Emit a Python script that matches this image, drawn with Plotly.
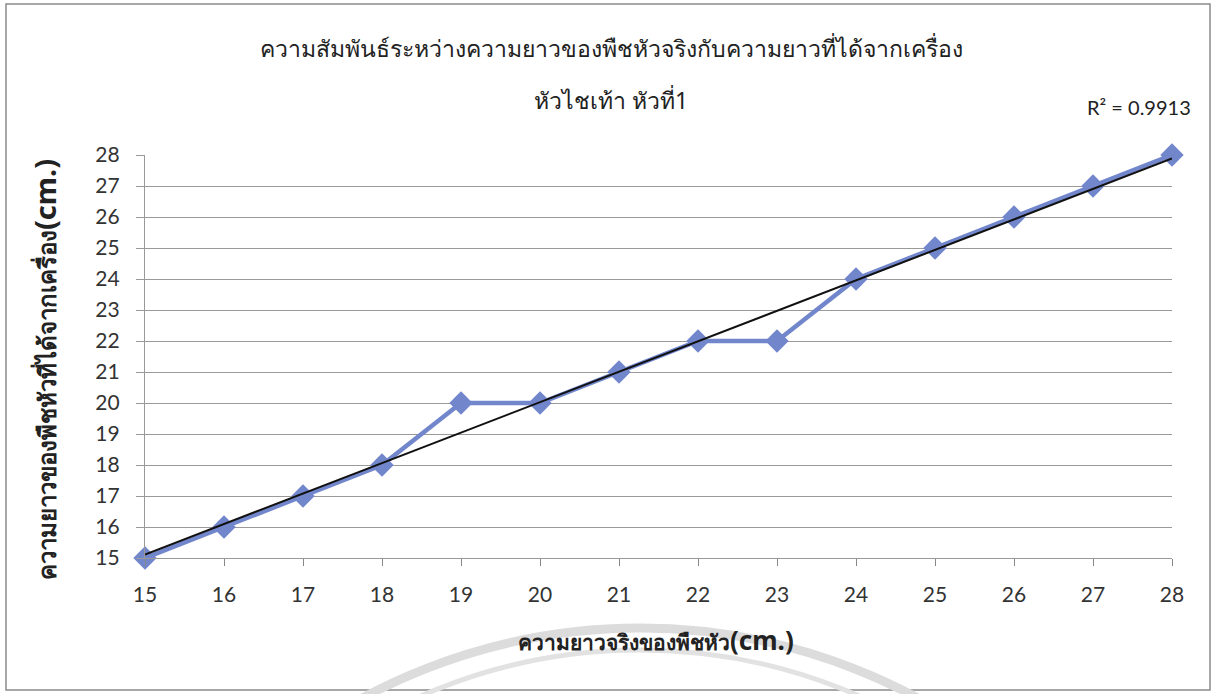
import numpy as np
import plotly.graph_objects as go

# Actual tuber length (cm) vs. length measured by the machine (cm)
actual_len = [15, 16, 17, 18, 19, 20, 21, 22, 23, 24, 25, 26, 27, 28]
machine_len = [15, 16, 17, 18, 20, 20, 21, 22, 22, 24, 25, 26, 27, 28]
tick_vals = list(range(15, 29))

title_line1 = "ความสัมพันธ์ระหว่างความยาวของพืชหัวจริงกับความยาวที่ได้จากเครื่อง"
title_line2 = "หัวไชเท้า หัวที่1"
x_title = "ความยาวจริงของพืชหัว"
y_title = "ความยาวของพืชหัวที่ได้จากเครื่อง"
unit = "(cm.)"

# Linear trendline and R² from the data
x = np.array(actual_len, dtype=float)
y = np.array(machine_len, dtype=float)
slope, intercept = np.polyfit(x, y, 1)
fit = slope * x + intercept
r2 = 1 - np.sum((y - fit) ** 2) / np.sum((y - y.mean()) ** 2)

W, H = 1223, 694
L, R, T, B = 145, 51, 155, 136
PW, PH = W - L - R, H - T - B


def px(v):
    return (v - L) / PW


def py(v):
    return (H - B - v) / PH


fig = go.Figure()
fig.add_trace(go.Scatter(
    x=actual_len, y=machine_len, mode="lines+markers",
    line=dict(color="#7286cc", width=4.5),
    marker=dict(symbol="diamond", size=18, color="#7286cc"),
    showlegend=False, cliponaxis=False,
))
fig.add_trace(go.Scatter(
    x=actual_len, y=fit.tolist(), mode="lines",
    line=dict(color="#111111", width=2),
    showlegend=False, cliponaxis=False,
))

tick_font = dict(family="Lato, 'Open Sans', sans-serif", size=21, color="#333333")
fig.update_xaxes(
    range=[15, 28], tickvals=tick_vals, ticks="outside", ticklen=7,
    tickcolor="#888888", tickwidth=1.2, showgrid=False, zeroline=False,
    showline=True, linecolor="#999999", linewidth=1.2,
    tickfont=tick_font, ticklabelstandoff=11,
)
fig.update_yaxes(
    range=[15, 28], tickvals=tick_vals, ticks="outside", ticklen=8,
    tickcolor="#999999", tickwidth=1.2, showgrid=True, gridcolor="#9a9a9a",
    gridwidth=1.2, zeroline=False, showline=True, linecolor="#999999",
    linewidth=1.2, tickfont=tick_font, ticklabelstandoff=12,
)

thai_font = "'Noto Sans', 'DejaVu Sans', sans-serif"


def label(text, cx, cy, size, angle=0, family=thai_font):
    fig.add_annotation(xref="paper", yref="paper", x=px(cx), y=py(cy),
                       xanchor="center", yanchor="middle", text=text,
                       showarrow=False, textangle=angle,
                       font=dict(family=family, size=size, color="#222222"))


def axis_label(thai, size_thai, size_unit):
    return (f"<b>{thai}<span style='font-size:{size_unit}px'>{unit}</span></b>")


label(title_line1, 611, 48, 23)
label(title_line2, 611, 100, 23)
label(f"R² = {r2:.4f}", 1139, 107, 20, family="Lato, 'Open Sans', sans-serif")
label(axis_label(x_title, 21, 26), 656, 640, 21)
label(axis_label(y_title, 24, 29), 44, 370, 24, angle=-90)

# Outer chart frame
fig.add_shape(type="rect", xref="paper", yref="paper",
              x0=px(6), x1=px(1210), y0=py(690), y1=py(4),
              line=dict(color="#8a8a8a", width=1.5), layer="below")
# Faint stamp arcs along the bottom edge
fig.add_shape(type="circle", xref="paper", yref="paper",
              x0=px(55), x1=px(1225), y0=py(1798), y1=py(628),
              line=dict(color="#dcdcdc", width=9), layer="below")
fig.add_shape(type="circle", xref="paper", yref="paper",
              x0=px(95), x1=px(1185), y0=py(1740), y1=py(650),
              line=dict(color="#e2e2e2", width=5), layer="below")

fig.update_layout(
    width=W, height=H, autosize=False,
    margin=dict(l=L, r=R, t=T, b=B),
    paper_bgcolor="white", plot_bgcolor="white",
)

fig.write_html("out.html")
